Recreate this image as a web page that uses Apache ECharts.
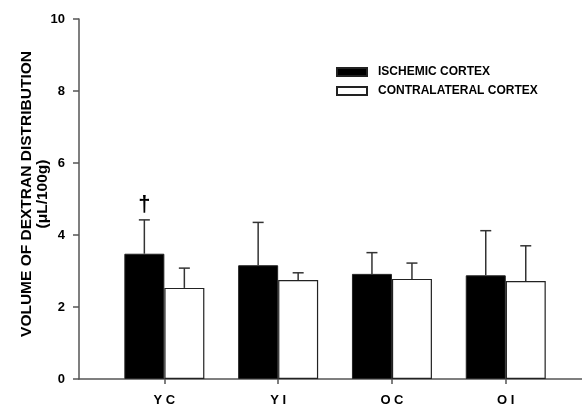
<!DOCTYPE html>
<html>
<head>
<meta charset="utf-8">
<script src="https://cdn.jsdelivr.net/npm/echarts@6/dist/echarts.min.js"></script>
<style>
  html, body { margin: 0; padding: 0; background: #fff; }
  #chart { width: 582px; height: 408px; }
</style>
</head>
<body>
<div id="chart"></div>
<script>
var groups = ['Y C', 'Y I', 'O C', 'O I'];
var groupPos = [1, 2, 3, 4];
var ischemic = [3.48, 3.16, 2.92, 2.88];
var ischemicErr = [0.94, 1.19, 0.59, 1.24];
var contra = [2.53, 2.75, 2.78, 2.72];
var contraErr = [0.55, 0.20, 0.44, 0.98];
var marks = ['\u2020', '', '', ''];
var yTicks = [0, 2, 4, 6, 8, 10];

var font = "'Liberation Sans', Arial, sans-serif";

function pairs(vals) {
    return vals.map(function (v, i) { return [groupPos[i], v]; });
}

function errData(vals, errs, side) {
    return vals.map(function (v, i) { return [groupPos[i], v, v + errs[i], side, marks[i] && side < 0 ? marks[i] : '']; });
}

function renderErr(params, api) {
    var x = api.value(0), lo = api.value(1), hi = api.value(2), side = api.value(3);
    var p0 = api.coord([x, lo]);
    var p1 = api.coord([x, hi]);
    var cx = p0[0] + side * 20;
    var style = { stroke: '#333', lineWidth: 1.5 };
    var kids = [
        { type: 'line', shape: { x1: cx, y1: p0[1], x2: cx, y2: p1[1] }, style: style },
        { type: 'line', shape: { x1: cx - 5.5, y1: p1[1], x2: cx + 5.5, y2: p1[1] }, style: style }
    ];
    var mark = api.value(4);
    if (mark) {
        kids.push({ type: 'text', style: { text: mark, x: cx, y: p1[1] - 4, align: 'center', verticalAlign: 'bottom',
            font: 'bold 22px ' + font, fill: '#000' } });
    }
    return { type: 'group', children: kids };
}

var chart = echarts.init(document.getElementById('chart'));
chart.setOption({
    animation: false,
    grid: { left: 79, right: 0, top: 19, bottom: 29 },
    legend: {
        orient: 'vertical',
        left: 331,
        top: 61,
        itemWidth: 30,
        itemHeight: 8,
        itemGap: 7,
        icon: 'rect',
        data: ['ISCHEMIC CORTEX', 'CONTRALATERAL CORTEX'],
        textStyle: { fontFamily: font, fontWeight: 'bold', fontSize: 12, color: '#000', padding: [0, 0, 0, 6] }
    },
    xAxis: {
        type: 'value',
        min: 0.25,
        max: 4.67,
        axisLine: { lineStyle: { color: '#555', width: 1.5 } },
        axisTick: { length: 5, customValues: groupPos, lineStyle: { color: '#555', width: 1.5 } },
        axisLabel: {
            customValues: groupPos,
            margin: 15,
            fontFamily: font, fontWeight: 'bold', fontSize: 13, color: '#000',
            formatter: function (v) { return groups[groupPos.indexOf(v)] || ''; }
        },
        splitLine: { show: false }
    },
    yAxis: {
        type: 'value',
        min: 0,
        max: 10,
        interval: 2,
        name: 'VOLUME OF DEXTRAN DISTRIBUTION\n(\u03bcL/100g)',
        nameLocation: 'middle',
        nameGap: 28,
        nameMoveOverlap: false,
        nameRotate: 90,
        nameTextStyle: { fontFamily: font, fontWeight: 'bold', fontSize: 15.5, lineHeight: 16, color: '#000', padding: [0, 0, 0, 10] },
        axisLine: { show: true, lineStyle: { color: '#555', width: 1.5 } },
        axisTick: { show: true, length: 6, lineStyle: { color: '#555', width: 1.5 } },
        axisLabel: { margin: 14, fontFamily: font, fontWeight: 'bold', fontSize: 13, color: '#000',
            formatter: function (v) { return yTicks.indexOf(v) >= 0 ? String(v) : ''; } },
        splitLine: { show: false }
    },
    series: [
        {
            name: 'ISCHEMIC CORTEX',
            type: 'bar',
            barWidth: 40,
            barGap: '0%',
            data: pairs(ischemic),
            itemStyle: { color: '#000', borderColor: '#222', borderWidth: 1 }
        },
        {
            name: 'CONTRALATERAL CORTEX',
            type: 'bar',
            barWidth: 40,
            barGap: '0%',
            data: pairs(contra),
            itemStyle: { color: '#fff', borderColor: '#222', borderWidth: 1.2 }
        },
        {
            type: 'custom',
            renderItem: renderErr,
            data: errData(ischemic, ischemicErr, -1),
            z: 3,
            silent: true
        },
        {
            type: 'custom',
            renderItem: renderErr,
            data: errData(contra, contraErr, 1),
            z: 3,
            silent: true
        }
    ]
});
</script>
</body>
</html>
